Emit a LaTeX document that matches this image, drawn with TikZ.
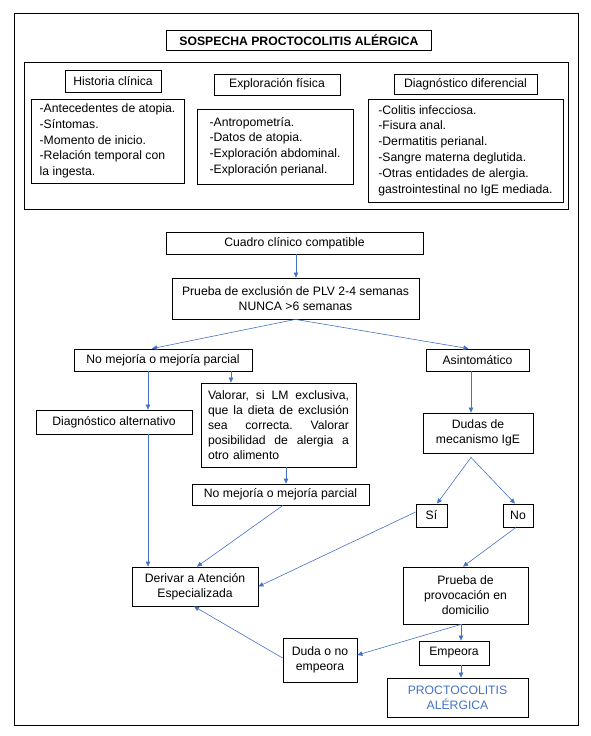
\documentclass[tikz,border=0pt]{standalone}
\usepackage{fontspec}
\setmainfont{Liberation Sans}
\usepackage{tikz}
\usetikzlibrary{arrows.meta}
\usepackage{xcolor}
\definecolor{flowblue}{RGB}{68,114,196}

\begin{document}
\begin{tikzpicture}[x=1pt, y=-1pt,
    box/.style={rectangle, draw=black, line width=0.8pt, align=center, inner sep=0pt,
      font=\fontsize{12.2}{15}\selectfont},
    titlebox/.style={box, font=\bfseries\fontsize{12.2}{15}\selectfont},
    listbox/.style={rectangle, draw=black, line width=0.8pt, align=left, inner sep=0pt,
      font=\fontsize{12.2}{15.8}\selectfont},
    frame/.style={draw=black, line width=0.9pt},
    arrow/.style={-{Triangle[length=5pt, width=4.5pt]}, line width=0.6pt, flowblue}]
    \useasboundingbox (0,0) rectangle (591,736);
    \draw[frame] (14,13) rectangle (578,725);
    \draw[frame] (24,62) rectangle (568,209);
    % sospecha
    \node[titlebox, minimum width=265, minimum height=20] (title) at (299,40)
      {SOSPECHA PROCTOCOLITIS ALÉRGICA};
    \node[box, minimum width=96, minimum height=22] (histc) at (113,81)
      {Historia clínica};
    \node[listbox, minimum width=153, minimum height=84] (histlist) at (107.5,141)
      {-Antecedentes de atopia.\\-Síntomas.\\-Momento de inicio.\\-Relación temporal con\\la ingesta.};
    \node[box, minimum width=126, minimum height=21] (explf) at (277,84.5)
      {Exploración física};
    \node[listbox, minimum width=156, minimum height=75] (expllist) at (275,146.5)
      {-Antropometría.\\-Datos de atopia.\\-Exploración abdominal.\\-Exploración perianal.};
    \node[box, minimum width=143, minimum height=20] (diagd) at (465.5,84)
      {Diagnóstico diferencial};
    \node[listbox, minimum width=195, minimum height=103] (diaglist) at (465.5,150.5)
      {-Colitis infecciosa.\\-Fisura anal.\\-Dermatitis perianal.\\-Sangre materna deglutida.\\-Otras entidades de alergia.\\gastrointestinal no IgE mediada.};
    % algoritmo
    \node[box, minimum width=257, minimum height=22] (cuadro) at (294.5,243)
      {Cuadro clínico compatible};
    \node[box, minimum width=247, minimum height=41] (prueba) at (295.5,298.5)
      {Prueba de exclusión de PLV 2-4 semanas\\NUNCA >6 semanas};
    \node[box, minimum width=178, minimum height=22] (nomej1) at (163,360)
      {No mejoría o mejoría parcial};
    \node[box, minimum width=103, minimum height=22] (asint) at (477.5,360)
      {Asintomático};
    \node[box, minimum width=156, minimum height=24] (diagalt) at (114,422)
      {Diagnóstico alternativo};
    \node[box, align=left, text width=141, minimum width=155, minimum height=84] (valorar) at (278.5,425)
      {Valorar,\hfill si\hfill LM\hfill exclusiva,\\que\hfill la\hfill dieta\hfill de\hfill exclusión\\sea\hfill correcta.\hfill Valorar\\posibilidad\hfill de\hfill alergia\hfill a\\otro alimento};
    \node[box, minimum width=110, minimum height=40] (dudas) at (478,433)
      {Dudas de\\mecanismo IgE};
    \node[box, minimum width=177, minimum height=21] (nomej2) at (280.5,494.5)
      {No mejoría o mejoría parcial};
    \node[box, minimum width=31, minimum height=23] (si) at (431.5,515.5) {Sí};
    \node[box, minimum width=30, minimum height=23] (no) at (518,515.5) {No};
    \node[box, minimum width=126, minimum height=39] (derivar) at (195,586.5)
      {Derivar a Atención\\Especializada};
    \node[box, minimum width=125, minimum height=57] (provoc) at (465.5,595.5)
      {Prueba de\\provocación en\\domicilio};
    \node[box, minimum width=74, minimum height=44] (duda) at (320,660)
      {Duda o no\\empeora};
    \node[box, minimum width=70, minimum height=24] (empeora) at (454,653)
      {Empeora};
    \node[box, text=flowblue, minimum width=141, minimum height=39] (procto) at (457.5,697.5)
      {PROCTOCOLITIS\\ALÉRGICA};
    \coordinate (fork) at ([xshift=-7, yshift=-4]dudas.south);
    \draw[arrow] ([xshift=1.5]cuadro.south) -- ([xshift=0.5]prueba.north);
    \draw[arrow] (prueba.south) -- ([xshift=-11]nomej1.north);
    \draw[arrow] (prueba.south) -- ([xshift=-9]asint.north);
    \draw[arrow] ([xshift=-15]nomej1.south) -- ([xshift=34]diagalt.north);
    \draw[arrow] ([xshift=68]nomej1.south) -- ([xshift=-47.5]valorar.north);
    \draw[arrow] ([xshift=-6.5]asint.south) -- ([xshift=-7]dudas.north);
    \draw[arrow] ([xshift=34]diagalt.south) -- ([xshift=-47]derivar.north);
    \draw[arrow] ([xshift=7.5]valorar.south) -- ([xshift=5.5]nomej2.north);
    \draw[arrow] ([xshift=2.5]nomej2.south) -- ([xshift=2]derivar.north);
    \draw[arrow] (fork) -- ([xshift=5.5]si.north);
    \draw[arrow] (fork) -- ([xshift=-3]no.north);
    \draw[arrow] ([yshift=3.5]si.west) -- (derivar.east);
    \draw[arrow] ([xshift=-2]no.south) -- ([xshift=-2.5]provoc.north);
    \draw[arrow] ([xshift=-4.5]provoc.south) -- ([xshift=7]empeora.north);
    \draw[arrow] ([xshift=-4.5]provoc.south) -- ([yshift=5]duda.east);
    \draw[arrow] ([xshift=7]empeora.south) -- ([xshift=3.5]procto.north);
    \draw[arrow] ([yshift=2]duda.west) -- ([xshift=-1]derivar.south);
  \end{tikzpicture}
\end{document}
